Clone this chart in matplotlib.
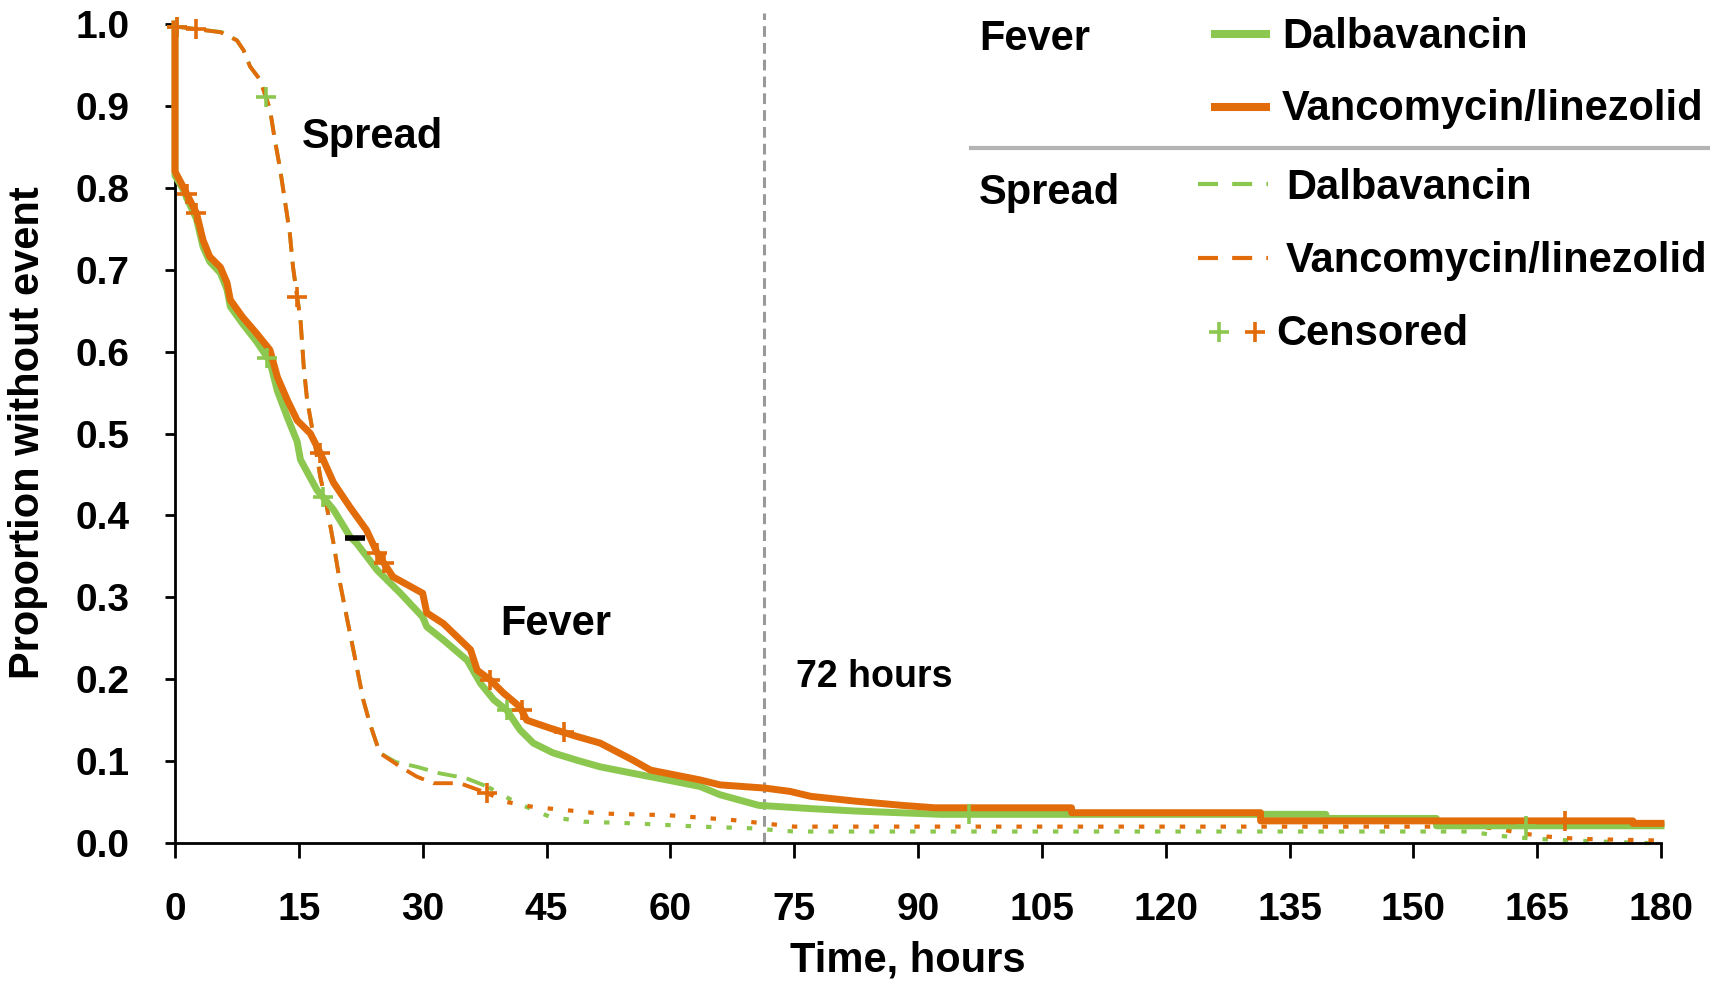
import numpy as np
import matplotlib
matplotlib.use('Agg')
import matplotlib.pyplot as plt
from matplotlib.lines import Line2D

GREEN = '#8CC84F'
ORANGE = '#E26B0A'
FONT = ['Liberation Sans', 'DejaVu Sans']

# Fever - Dalbavancin (horas, proporcion sin evento), vertices de la curva
fever_dal_t = [0, 0, 1.0, 1.4, 2.6, 3.4, 4.2, 5.5, 6.3, 6.7, 8.2, 9.9, 11.5, 12.4, 13.6, 14.8,
               15.2, 17.2, 19.2, 21.2, 22, 24.5, 27.3, 30, 30.5, 32.5, 35.4, 37, 38.6, 40.2,
               41.8, 43.4, 45.8, 48.7, 51.5, 55.5, 59.6, 63.6, 66, 70.7, 77, 82.5, 92.8,
               139.4, 139.4, 152.8, 152.8, 180]
fever_dal_v = [1.0, 0.815, 0.798, 0.788, 0.762, 0.728, 0.71, 0.696, 0.676, 0.655, 0.634, 0.612,
               0.588, 0.552, 0.52, 0.49, 0.468, 0.431, 0.407, 0.374, 0.366, 0.333, 0.305, 0.276,
               0.264, 0.248, 0.223, 0.195, 0.175, 0.162, 0.138, 0.122, 0.110, 0.101, 0.093,
               0.085, 0.077, 0.069, 0.059, 0.046, 0.042, 0.039, 0.035, 0.035, 0.030, 0.030,
               0.021, 0.021]
fever_dal_cens = [11.2, 17.9, 40.2, 96.2, 163.7]

# Fever - Vancomycin/linezolid
fever_vl_t = [0, 0, 1.0, 1.4, 2.6, 3.4, 4.2, 5.5, 6.3, 6.7, 8.2, 9.9, 11.5, 12.4, 13.6, 14.8,
              16.4, 17.6, 19.2, 21.2, 23.2, 24.5, 26.4, 30, 30.5, 32.5, 35.8, 36.6, 38.2, 39.8,
              41.8, 42.6, 45.5, 48.7, 51.5, 55.5, 57.6, 61.6, 63.6, 66, 71.5, 74.5, 77, 82.5,
              88, 92, 108.6, 108.6, 131.5, 131.5, 176.6, 176.6, 180]
fever_vl_v = [1.0, 0.82, 0.801, 0.793, 0.769, 0.736, 0.716, 0.703, 0.684, 0.663, 0.642, 0.622,
              0.602, 0.569, 0.541, 0.516, 0.50, 0.476, 0.44, 0.41, 0.382, 0.354, 0.325, 0.305,
              0.281, 0.268, 0.236, 0.211, 0.199, 0.183, 0.166, 0.150, 0.140, 0.130, 0.122,
              0.101, 0.089, 0.081, 0.077, 0.071, 0.067, 0.063, 0.057, 0.051, 0.046, 0.043,
              0.043, 0.037, 0.037, 0.027, 0.027, 0.024, 0.024]
fever_vl_cens = [1.4, 2.6, 17.6, 24.5, 25.3, 38.2, 42.0, 47.1, 168.4]

# Spread - Dalbavancin
spread_dal_t = [0, 5.7, 7.5, 8.3, 9.1, 10.3, 11.5, 12.1, 12.7, 13.3, 13.9, 14.3, 14.8, 15.2,
                15.6, 16, 16.8, 17.6, 18.4, 19.2, 20, 20.8, 21.6, 22.8, 23.6, 24.8, 26.7, 29.3,
                32.1, 35.3, 37.8, 41.4, 45.4, 49.5, 55.5, 63.6, 69.7, 75, 157, 160, 165, 172,
                178, 180]
spread_dal_v = [0.997, 0.99, 0.98, 0.968, 0.948, 0.932, 0.896, 0.858, 0.825, 0.785, 0.745,
                0.703, 0.667, 0.639, 0.581, 0.541, 0.496, 0.447, 0.41, 0.366, 0.317, 0.276,
                0.236, 0.175, 0.146, 0.110, 0.099, 0.093, 0.085, 0.079, 0.069, 0.049, 0.032,
                0.026, 0.024, 0.020, 0.018, 0.014, 0.014, 0.009, 0.005, 0.002, 0.0, 0.0]
spread_dal_cens = [0.2, 11.0]

# Spread - Vancomycin/linezolid
spread_vl_t = [0, 5.5, 7.5, 8.3, 9.1, 10.3, 11.5, 12.1, 12.7, 13.3, 13.9, 14.3, 14.8, 15.2,
               15.6, 16, 16.8, 17.6, 18.4, 19.2, 20, 20.8, 21.6, 22.8, 23.6, 24.8, 27.3, 29.3,
               31.3, 34.5, 37.8, 40.2, 43.4, 47.5, 51.5, 59.6, 67.6, 75, 158, 161, 163, 166,
               170, 180]
spread_vl_v = [0.997, 0.99, 0.98, 0.968, 0.948, 0.932, 0.896, 0.858, 0.825, 0.785, 0.745,
               0.703, 0.667, 0.639, 0.581, 0.541, 0.496, 0.447, 0.41, 0.366, 0.317, 0.276,
               0.236, 0.175, 0.146, 0.110, 0.093, 0.081, 0.073, 0.073, 0.061, 0.05, 0.044,
               0.04, 0.036, 0.034, 0.028, 0.020, 0.020, 0.016, 0.012, 0.008, 0.005, 0.003]
spread_vl_cens = [0.2, 2.6, 14.8, 37.8]

# marca negra suelta en la figura original
stray_t = [21.8]
stray_v = [0.372]

x_ticks = list(range(0, 181, 15))
y_ticks = [0.0, 0.1, 0.2, 0.3, 0.4, 0.5, 0.6, 0.7, 0.8, 0.9, 1.0]
threshold_h = 71.4


def split_at(t, v, ts):
    t = np.asarray(t, dtype=float)
    v = np.asarray(v, dtype=float)
    i = np.searchsorted(t, ts, side='right')
    vs = np.interp(ts, t, v)
    return (np.append(t[:i], ts), np.append(v[:i], vs),
            np.insert(t[i:], 0, ts), np.insert(v[i:], 0, vs))


W, H = 1719, 991
fig = plt.figure(figsize=(W / 100, H / 100), dpi=100)
ax = fig.add_axes([175 / W, 1 - 843 / H, (1661 - 175) / W, (843 - 24) / H])


def fx(x):
    return x / W


def fy(y):
    return 1 - y / H


# Spread: guiones al principio, puntos despues
for t, v, c in [(spread_dal_t, spread_dal_v, GREEN), (spread_vl_t, spread_vl_v, ORANGE)]:
    et, ev, lt, lv = split_at(t, v, 38.0)
    ax.plot(et, ev, color=c, lw=2.8, dashes=(5.0, 2.6), clip_on=False, zorder=2)
    ax.plot(lt, lv, color=c, lw=3.0, dashes=(1.3, 3.6), clip_on=False, zorder=2)

# Fever: lineas gruesas
ax.plot(fever_dal_t, fever_dal_v, color=GREEN, lw=5, clip_on=False, zorder=3)
ax.plot(fever_vl_t, fever_vl_v, color=ORANGE, lw=5, clip_on=False, zorder=4)

# Censurados
for t, v, cens, c in [(spread_dal_t, spread_dal_v, spread_dal_cens, GREEN),
                      (spread_vl_t, spread_vl_v, spread_vl_cens, ORANGE),
                      (fever_dal_t, fever_dal_v, fever_dal_cens, GREEN),
                      (fever_vl_t, fever_vl_v, fever_vl_cens, ORANGE)]:
    ax.plot(cens, np.interp(cens, t, v), linestyle='none', marker='+', ms=15, mew=2.6,
            color=c, clip_on=False, zorder=5)

ax.plot(stray_t, stray_v, linestyle='none', marker='_', ms=14, mew=4, color='black', zorder=6)

ax.axvline(threshold_h, ymin=0, ymax=1.013, color='#999999', lw=2.2, dashes=(3.5, 2),
           clip_on=False, zorder=1)

ax.set_xlim(0, 180)
ax.set_ylim(0, 1.0)
ax.set_xticks(x_ticks)
ax.set_yticks(y_ticks)
ax.set_yticklabels([f'{y:.1f}' for y in y_ticks])
ax.spines['top'].set_visible(False)
ax.spines['right'].set_visible(False)
ax.spines['left'].set_linewidth(2)
ax.spines['bottom'].set_linewidth(2)
ax.tick_params(axis='x', direction='out', length=11, width=2, pad=24, labelsize=28)
ax.tick_params(axis='y', direction='out', length=7.5, width=2, pad=25, labelsize=28)
for lab in ax.get_xticklabels() + ax.get_yticklabels():
    lab.set_family(FONT)
    lab.set_fontweight('bold')

txt = dict(family=FONT, fontweight='bold', color='black')
ax.text(15.4, 0.849, 'Spread', fontsize=30, va='baseline', ha='left', **txt)
ax.text(39.4, 0.254, 'Fever', fontsize=30, va='baseline', ha='left', **txt)
ax.text(75.2, 0.1905, '72 hours', fontsize=27, va='baseline', ha='left', **txt)

fig.text(fx(908), fy(972), 'Time, hours', fontsize=30, ha='center', va='baseline', **txt)
fig.text(fx(28), fy(433), 'Proportion without event', fontsize=30, rotation=90,
         ha='center', va='center', **txt)

# Leyenda hecha a mano
fig.text(fx(979), fy(50), 'Fever', fontsize=30, va='baseline', **txt)
fig.text(fx(979), fy(204), 'Spread', fontsize=30, va='baseline', **txt)
fig.add_artist(Line2D([fx(1215), fx(1266)], [fy(34), fy(34)], color=GREEN, lw=5.8,
                      transform=fig.transFigure))
fig.add_artist(Line2D([fx(1215), fx(1266)], [fy(107), fy(107)], color=ORANGE, lw=5.8,
                      transform=fig.transFigure))
fig.text(fx(1282), fy(48), 'Dalbavancin', fontsize=30, va='baseline', **txt)
fig.text(fx(1282), fy(120), 'Vancomycin/linezolid', fontsize=30, va='baseline', **txt)
fig.add_artist(Line2D([fx(971), fx(1708)], [fy(148), fy(148)], color='#B4B4B4', lw=3,
                      transform=fig.transFigure))
fig.add_artist(Line2D([fx(1198), fx(1268)], [fy(184), fy(184)], color=GREEN, lw=3,
                      dashes=(4.8, 3.4), transform=fig.transFigure))
fig.add_artist(Line2D([fx(1198), fx(1268)], [fy(258), fy(258)], color=ORANGE, lw=3,
                      dashes=(4.8, 3.4), transform=fig.transFigure))
fig.text(fx(1286), fy(199), 'Dalbavancin', fontsize=30, va='baseline', **txt)
fig.text(fx(1286), fy(272), 'Vancomycin/linezolid', fontsize=30, va='baseline', **txt)
fig.add_artist(Line2D([fx(1219)], [fy(332)], marker='+', ms=15, mew=2.6, color=GREEN,
                      linestyle='none', transform=fig.transFigure))
fig.add_artist(Line2D([fx(1255)], [fy(332)], marker='+', ms=15, mew=2.6, color=ORANGE,
                      linestyle='none', transform=fig.transFigure))
fig.text(fx(1276), fy(345), 'Censored', fontsize=30, va='baseline', **txt)

fig.savefig('out.png', dpi=100)
